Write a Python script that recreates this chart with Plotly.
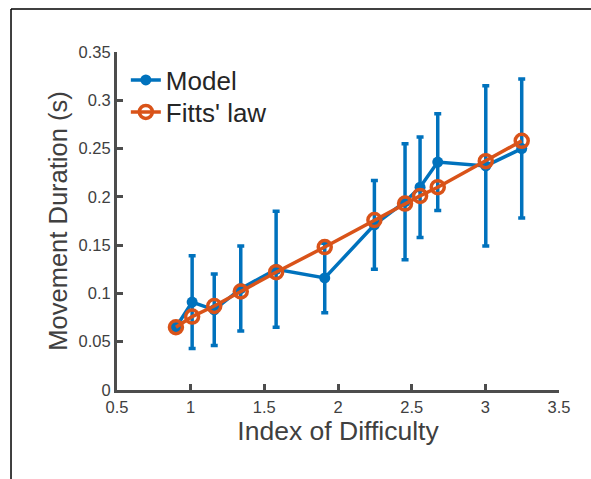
import plotly.graph_objects as go

# Data
index_of_difficulty = [0.90, 1.01, 1.16, 1.34, 1.58, 1.91, 2.247, 2.455, 2.557, 2.677, 3.003, 3.247]
model_duration = [0.065, 0.091, 0.083, 0.105, 0.125, 0.116, 0.171, 0.195, 0.210, 0.236, 0.232, 0.250]
model_error = [0.0, 0.048, 0.037, 0.044, 0.060, 0.036, 0.046, 0.060, 0.052, 0.050, 0.083, 0.072]
fitts_duration = [0.065, 0.076, 0.087, 0.102, 0.122, 0.148, 0.176, 0.193, 0.201, 0.210, 0.237, 0.258]

x_ticks = [0.5, 1, 1.5, 2, 2.5, 3, 3.5]
x_ticklabels = ["0.5", "1", "1.5", "2", "2.5", "3", "3.5"]
y_ticks = [0, 0.05, 0.1, 0.15, 0.2, 0.25, 0.3, 0.35]
y_ticklabels = ["0", "0.05", "0.1", "0.15", "0.2", "0.25", "0.3", "0.35"]

BLUE = "#0072BD"
ORANGE = "#D95319"
AXIS = "#4d4d4d"
FONT = "Liberation Sans, Arial, Helvetica, sans-serif"

fig = go.Figure()
fig.add_trace(go.Scatter(
    x=index_of_difficulty, y=model_duration, name="Model",
    mode="lines+markers", legend="legend",
    line=dict(color=BLUE, width=3.5),
    marker=dict(color=BLUE, size=11, symbol="circle"),
    error_y=dict(type="data", array=model_error, visible=True,
                 color=BLUE, thickness=3.5, width=3.5),
))
fig.add_trace(go.Scatter(
    x=index_of_difficulty, y=fitts_duration, name="Fitts' law",
    mode="lines+markers", legend="legend2",
    line=dict(color=ORANGE, width=3.5),
    marker=dict(color=ORANGE, size=13, symbol="circle-open",
                line=dict(color=ORANGE, width=3.5)),
))

legend_common = dict(xanchor="left", yanchor="middle", bgcolor="rgba(0,0,0,0)",
                     font=dict(size=26, color="#262626"), itemwidth=30)

fig.update_layout(
    width=591, height=479,
    margin=dict(l=117, r=32, t=52, b=89),
    paper_bgcolor="white", plot_bgcolor="white",
    font=dict(family=FONT, color="#404040"),
    showlegend=True,
    legend=dict(x=0.02, y=0.917, **legend_common),
    legend2=dict(x=0.02, y=0.8225, **legend_common),
    xaxis=dict(range=[0.5, 3.5], tickvals=x_ticks, ticktext=x_ticklabels,
               showgrid=False, zeroline=False, showline=True, linecolor=AXIS, linewidth=3,
               ticks="inside", ticklen=6, tickwidth=3, tickcolor=AXIS,
               tickfont=dict(size=16.5, color="#404040"),
               title=dict(text="Index of Difficulty", font=dict(size=26.5, color="#404040"), standoff=4)),
    yaxis=dict(range=[0, 0.35], tickvals=y_ticks, ticktext=y_ticklabels,
               showgrid=False, zeroline=False, showline=True, linecolor=AXIS, linewidth=3,
               ticks="inside", ticklen=6, tickwidth=3, tickcolor=AXIS,
               tickfont=dict(size=16.5, color="#404040"),
               title=dict(text="Movement Duration (s)", font=dict(size=25.5, color="#404040"), standoff=4)),
    shapes=[
        dict(type="line", xref="paper", yref="paper", x0=-0.2398, x1=1.2, y0=1.127, y1=1.127,
             line=dict(color="black", width=1.5)),
        dict(type="line", xref="paper", yref="paper", x0=-0.2398, x1=-0.2398, y0=1.127, y1=-0.5,
             line=dict(color="black", width=1.5)),
    ],
)

fig.write_html("out.html")
